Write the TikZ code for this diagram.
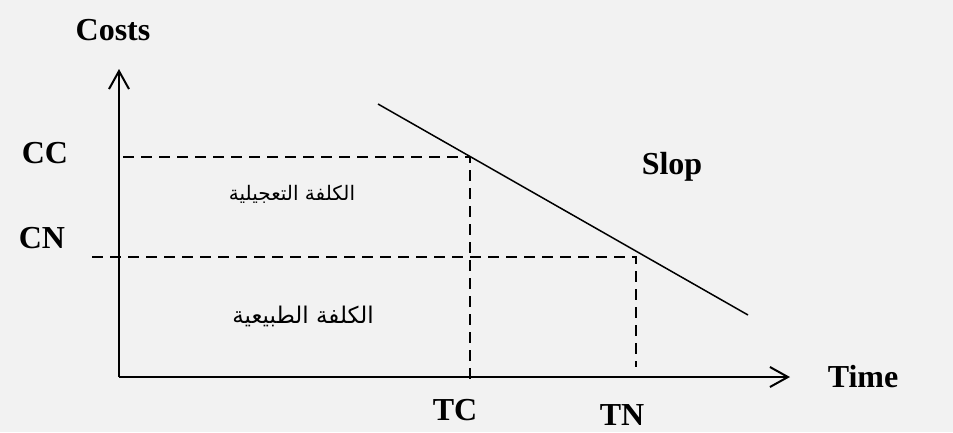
\documentclass[tikz,border=0pt]{standalone}
\usepackage{fontspec}
\setmainfont{Liberation Serif}
\newfontfamily\arabicfont[Script=Arabic]{DejaVu Sans}
\TeXXeTstate=1
\usetikzlibrary{arrows.meta}
\definecolor{paper}{HTML}{F2F2F2}
\tikzset{
  axis/.style={line width=2pt,-{Straight Barb[length=18pt,width=20pt,line width=2pt]}},
  guide/.style={line width=2pt,dash pattern=on 11pt off 7pt},
  lbl/.style={font=\fontsize{32}{36}\selectfont\bfseries,inner sep=0pt},
}
\begin{document}
\begin{tikzpicture}[x=1pt,y=-1pt]
        \useasboundingbox (0,0) rectangle (953,432);
        \fill[paper] (0,0) rectangle (953,432);

        \coordinate (O) at (119,377);
        \coordinate (ytop) at (119,69);
        \coordinate (xend) at (790,377);
        \coordinate (CCa) at (123,157);
        \coordinate (CCb) at (470,157);
        \coordinate (TCa) at (470,380);
        \coordinate (CNa) at (92,257);
        \coordinate (CNb) at (636,257);
        \coordinate (TNa) at (636,367);
        \coordinate (s1) at (378,104);
        \coordinate (s2) at (748,315);

        \node[lbl] (costs) at (113,30) {Costs};
        \node[lbl] (cc) at (45,153) {CC};
        \node[lbl] (cn) at (42,238) {CN};
        \node[lbl] (slop) at (672,167) {Slop};
        \node[lbl] (tc) at (455,410) {TC};
        \node[lbl] (tn) at (622,415) {TN};
        \node[lbl] (time) at (863,377) {Time};

        \node (crash) at (292,194) {\fontsize{20}{24}\selectfont\arabicfont\beginR الكلفة التعجيلية\endR};
        \node (normal) at (303,316) {\fontsize{23}{27}\selectfont\arabicfont\beginR الكلفة الطبيعية\endR};

        % axes
        \draw[axis] (O) -- (ytop);
        \draw[axis] (O) -- (xend);

        % dashed guides
        \draw[guide] (CCa) -- (CCb) -- (TCa);
        \draw[guide] (CNa) -- (CNb) -- (TNa);

        % cost slope
        \draw[line width=1.5pt] (s1) -- (s2);
    \end{tikzpicture}
\end{document}
